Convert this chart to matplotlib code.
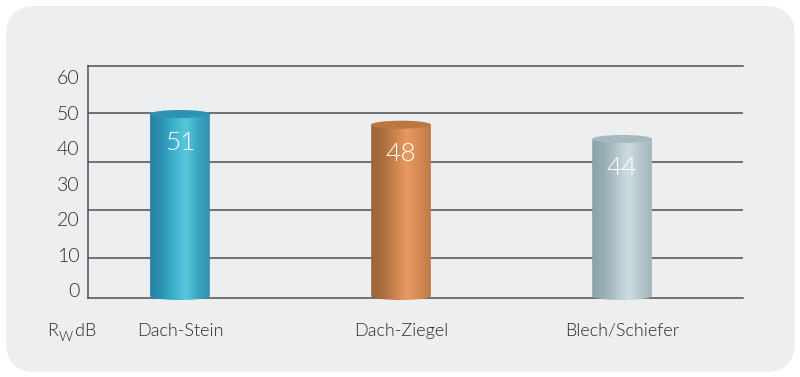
import numpy as np
import matplotlib
matplotlib.use('Agg')
import matplotlib.pyplot as plt
from matplotlib.patches import FancyBboxPatch, Ellipse, PathPatch
from matplotlib.path import Path
from matplotlib.colors import LinearSegmentedColormap

# ---- data ----
categories = ['Dach-Stein', 'Dach-Ziegel', 'Blech/Schiefer']
values = [51, 48, 44]
value_labels = ['51', '48', '44']
tick_values = [0, 10, 20, 30, 40, 50, 60]
tick_labels = ['0', '10', '20', '30', '40', '50', '60']
grid_values = [9, 22.5, 36, 50]

plt.rcParams['font.family'] = ['Lato', 'DejaVu Sans']
WEIGHT = 300

W, H = 800, 377
fig = plt.figure(figsize=(W / 100, H / 100), dpi=100)
fig.patch.set_facecolor('white')

# background rounded panel
bg = fig.add_axes([0, 0, 1, 1])
bg.set_xlim(0, W); bg.set_ylim(H, 0); bg.axis('off')
bg.add_patch(FancyBboxPatch((6, 6), 789, 366, boxstyle='round,pad=0,rounding_size=30',
                            fc='#edeeef', ec='none'))

L, R, B, T = 88, 743, 298, 66
xlim = (-0.416, 2.547)
axcol = '#4a4f55'
txtcol = '#2a2a2a'

# label / grid axes
ax2 = fig.add_axes([L / W, (H - B) / H, (R - L) / W, (B - T) / H])
ax2.patch.set_visible(False)
ax2.set_xlim(*xlim)
ax2.set_ylim(-2.25, 63.1)
for s in ['left', 'bottom', 'top']:
    ax2.spines[s].set_color(axcol)
    ax2.spines[s].set_linewidth(1.1)
ax2.spines['right'].set_visible(False)
for g in grid_values:
    ax2.axhline(g, color=axcol, lw=1.1, zorder=1)
ax2.set_yticks(tick_values)
ax2.set_yticklabels(tick_labels, fontsize=14, color=txtcol, fontweight=WEIGHT)
ax2.tick_params(axis='y', length=0, pad=6)
pos = np.arange(len(categories))
ax2.set_xticks(pos)
ax2.set_xticklabels(categories, fontsize=13, color=txtcol, fontweight=WEIGHT)
ax2.tick_params(axis='x', length=0, pad=18)

# bars axes
px_per_unit = 3.569
base_px = 296
bot_px = 312
ax = fig.add_axes([L / W, (H - bot_px) / H, (R - L) / W, (bot_px - T) / H])
ax.set_zorder(ax2.get_zorder() + 1)
ax.patch.set_visible(False)
ax.axis('off')

cmaps = [
    LinearSegmentedColormap.from_list('b', ['#277fa0', '#2c93b4', '#3db2cc', '#58c8dc', '#3aa6c2', '#2f8fae']),
    LinearSegmentedColormap.from_list('o', ['#9a6438', '#ab6e40', '#c9844e', '#e99a62', '#d48b55', '#bd7a46']),
    LinearSegmentedColormap.from_list('g', ['#8aa1a8', '#98aeb5', '#b1c4c9', '#cfdde0', '#b5c7cc', '#a2b6bc']),
]
top_colors = ['#2e92b2', '#bb7644', '#a6b9bf']

w = 0.27
ey = 4.0 / px_per_unit
grad = np.linspace(0, 1, 256).reshape(1, -1)
for i, (x, v) in enumerate(zip(pos, values)):
    im = ax.imshow(grad, cmap=cmaps[i], extent=(x - w / 2, x + w / 2, -ey, v),
                   aspect='auto', zorder=2, interpolation='bicubic')
    t = np.linspace(np.pi, 2 * np.pi, 40)
    verts = [(x - w / 2, v), (x - w / 2, 0)] + \
            [(x + w / 2 * np.cos(a), ey * np.sin(a)) for a in t] + \
            [(x + w / 2, v), (x - w / 2, v)]
    clip = PathPatch(Path(verts), transform=ax.transData, fc='none', ec='none')
    ax.add_patch(clip)
    im.set_clip_path(clip)
    ax.add_patch(Ellipse((x, v), w, 2 * ey, fc=top_colors[i], ec='none', zorder=3))
    ax.annotate(value_labels[i], (x, v), xytext=(0, -29), textcoords='offset pixels',
                ha='center', va='center', color='white', fontsize=19,
                fontweight=WEIGHT, zorder=4)

ax.set_xlim(*xlim)
ax.set_ylim((base_px - bot_px) / px_per_unit, (base_px - T) / px_per_unit)

# R_W dB label
bg.text(47, 331, 'R', fontsize=13, color=txtcol, va='center', ha='left', fontweight=WEIGHT)
bg.text(59, 337, 'W', fontsize=10, color=txtcol, va='center', ha='left', fontweight=WEIGHT)
bg.text(75, 331, 'dB', fontsize=13, color=txtcol, va='center', ha='left', fontweight=WEIGHT)

fig.savefig('out.png', dpi=100)
